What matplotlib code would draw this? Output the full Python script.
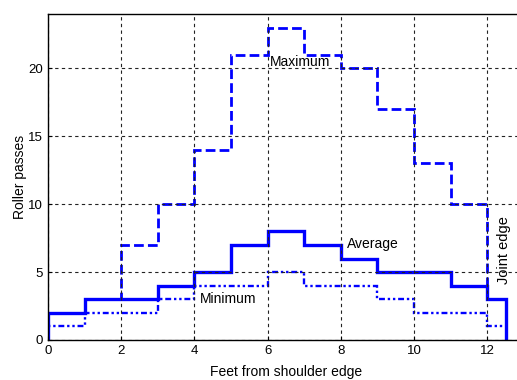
import matplotlib

matplotlib.use("Agg")
import matplotlib.pyplot as plt

# step edges in feet from the shoulder edge
edges = [0, 1, 2, 3, 4, 5, 6, 7, 8, 9, 10, 11, 12, 12.5]
maximum = [2, 3, 7, 10, 14, 21, 23, 21, 20, 17, 13, 10, 3]
average = [2, 3, 3, 4, 5, 7, 8, 7, 6, 5, 5, 4, 3]
minimum = [1, 2, 2, 3, 4, 4, 5, 4, 4, 3, 2, 2, 1]

x_ticks = [0, 2, 4, 6, 8, 10, 12]
y_ticks = [0, 5, 10, 15, 20]

plt.rcParams["font.family"] = ["Liberation Sans", "DejaVu Sans"]
plt.rcParams["font.size"] = 9

fig = plt.figure(figsize=(5.17, 3.8), dpi=100)
ax = fig.add_axes([48 / 517, 40 / 380, 13 * 36.6 / 517, 326 / 380])

blue = (0, 0, 1)
ax.stairs(maximum, edges, baseline=0, color=blue, lw=2.0, linestyle=(0, (3.5, 1.5)))
ax.stairs(minimum, edges, baseline=None, color=blue, lw=1.7,
          linestyle=(0, (1, 1.2, 1, 1.2, 2.5, 1.2)))
ax.stairs(average, edges, baseline=0, color=blue, lw=2.4)

ax.set_xlim(0, 13)
ax.set_ylim(0, 24)
ax.set_xticks(x_ticks)
ax.set_yticks(y_ticks)
ax.tick_params(direction="in", length=3, width=0.8, labelsize=9.5)
ax.grid(True, color="#222222", linestyle=(0, (3, 3)), lw=0.8)
for sp in ax.spines.values():
    sp.set_linewidth(1.0)

ax.text(6.07, 20.45, "Maximum", fontsize=10, va="center", ha="left")
ax.text(8.17, 7.1, "Average", fontsize=10, va="center", ha="left")
ax.text(4.15, 3.0, "Minimum", fontsize=10, va="center", ha="left")
ax.text(12.45, 6.6, "Joint edge", fontsize=10.5, va="center", ha="center", rotation=90)

ax.set_xlabel("Feet from shoulder edge", fontsize=10, labelpad=6)
ax.set_ylabel("Roller passes", fontsize=10, labelpad=1)

fig.savefig("out.png", dpi=100)
